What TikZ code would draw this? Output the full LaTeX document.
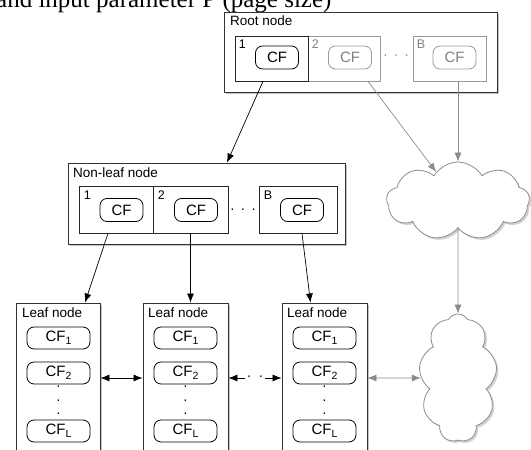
\documentclass[tikz,border=0pt]{standalone}
\usepackage{fontspec}
\setmainfont{Liberation Sans}
\newfontfamily\captionserif{Liberation Serif}
\usetikzlibrary{arrows.meta,positioning,calc,shapes.symbols,shadows}
\newcommand{\cfsub}[1]{CF\raisebox{-3.5pt}{\fontsize{10.5}{10.5}\selectfont #1}}

\begin{document}
\begin{tikzpicture}[
		x=1pt,y=-1pt,
		>={Latex[length=9pt,width=7pt]},
		outerbox/.style={
			draw=black!80,
			line width=0.9pt,
			fill=white,
			inner sep=0pt,
			drop shadow={shadow xshift=2pt,shadow yshift=-2pt,fill=black!40,opacity=0.6}
		},
		cell/.style={
			draw=black!85,
			line width=0.7pt,
			inner sep=0pt
		},
		greycell/.style={
			cell,
			draw=black!40
		},
		cfbox/.style={
			draw=black,
			line width=0.8pt,
			rounded corners=7pt,
			minimum width=43pt,
			minimum height=23pt,
			inner sep=0pt,
			font=\fontsize{15}{15}\selectfont
		},
		greycf/.style={
			cfbox,
			draw=black!40,
			text=black!50
		},
		leafcf/.style={
			cfbox,
			minimum width=63pt,
			minimum height=22pt
		},
		boxlabel/.style={
			anchor=north west,
			inner sep=0pt,
			font=\fontsize{13.5}{14}\selectfont
		},
		celllabel/.style={
			anchor=north west,
			inner sep=0pt,
			font=\fontsize{12.5}{12.5}\selectfont
		},
		dotrow/.style={
			inner sep=2pt,
			font=\fontsize{14}{14}\selectfont
		},
		dotcol/.style={
			inner sep=0pt,
			align=center,
			font=\fontsize{14}{13.5}\selectfont
		},
		link/.style={
			->,
			draw=black,
			line width=0.7pt
		},
		greylink/.style={
			link,
			draw=black!45
		},
		puff/.style={
			cloud,
			cloud puffs=9,
			cloud puff arc=120,
			cloud ignores aspect,
			draw=black!45,
			line width=0.8pt,
			fill=white,
			inner sep=0pt,
			drop shadow={shadow xshift=2pt,shadow yshift=-2pt,fill=black!35,opacity=0.5}
		}
		]
		
		\useasboundingbox (0,0) rectangle (531,450);
		\clip (0,0) rectangle (531,450);
		
		% -------------------------------------------------------------------------
		% Caption line cut by the page edge
		% -------------------------------------------------------------------------
		
		\node[anchor=base west,inner sep=0pt,font=\captionserif\fontsize{25}{25}\selectfont] (caption) at (-4,7)
		{and input parameter P (page size)};
		
		% -------------------------------------------------------------------------
		% Root node
		% -------------------------------------------------------------------------
		
		\node[outerbox,minimum width=273pt,minimum height=80pt] (root) at (360.5,52) {};
		\node[boxlabel] (rootlab) at (230,16) {Root node};
		
		\node[greycell,minimum width=72pt,minimum height=45pt] (r2) at (344,58.5) {};
		\node[greycell,minimum width=73pt,minimum height=45pt] (rB) at (449.5,58.5) {};
		\node[cell,minimum width=73pt,minimum height=45pt] (r1) at (271.5,58.5) {};
		
		\node[celllabel] (r1lab) at ([xshift=4pt,yshift=-4pt]r1.north west) {1};
		\node[celllabel,text=black!50] (r2lab) at ([xshift=4pt,yshift=-4pt]r2.north west) {2};
		\node[celllabel,text=black!50] (rBlab) at ([xshift=4pt,yshift=-4pt]rB.north west) {B};
		
		\node[cfbox] (r1cf) at (277,57.5) {CF};
		\node[greycf] (r2cf) at (350,57.5) {CF};
		\node[greycf] (rBcf) at (454.5,57.5) {CF};
		
		\node[dotrow,text=black!45] (rdots) at (396,57) {·\hspace{6pt}·\hspace{6pt}·};
		
		% -------------------------------------------------------------------------
		% Non-leaf node
		% -------------------------------------------------------------------------
		
		\node[outerbox,minimum width=277pt,minimum height=81pt] (nl) at (206.5,203.5) {};
		\node[boxlabel] (nllab) at (73,168) {Non-leaf node};
		
		\node[cell,minimum width=74pt,minimum height=47pt] (n1) at (116,209.5) {};
		\node[cell,minimum width=75pt,minimum height=47pt] (n2) at (190.5,209.5) {};
		\node[cell,minimum width=78pt,minimum height=47pt] (nB) at (298,209.5) {};
		
		\node[celllabel] (n1lab) at ([xshift=5pt,yshift=-5pt]n1.north west) {1};
		\node[celllabel] (n2lab) at ([xshift=5pt,yshift=-5pt]n2.north west) {2};
		\node[celllabel] (nBlab) at ([xshift=5pt,yshift=-5pt]nB.north west) {B};
		
		\node[cfbox] (n1cf) at (121.5,210) {CF};
		\node[cfbox] (n2cf) at (196,210) {CF};
		\node[cfbox] (nBcf) at (302,210) {CF};
		
		\node[dotrow] (ndots) at (243,211) {·\hspace{6pt}·\hspace{6pt}·};
		
		% -------------------------------------------------------------------------
		% Leaf nodes
		% -------------------------------------------------------------------------
		
		\node[outerbox,minimum width=84pt,minimum height=150pt] (l1) at (58,378) {};
		\node[outerbox,minimum width=85pt,minimum height=150pt] (l2) at (185.5,378) {};
		\node[outerbox,minimum width=85pt,minimum height=150pt] (l3) at (324.5,378) {};
		
		\node[boxlabel] (l1lab) at (22,308) {Leaf node};
		\node[boxlabel] (l2lab) at (148,308) {Leaf node};
		\node[boxlabel] (l3lab) at (287,308) {Leaf node};
		
		\node[leafcf] (l1a) at (58.5,338) {\cfsub{1}};
		\node[leafcf] (l1b) at (58.5,373) {\cfsub{2}};
		\node[dotcol] (l1d) at (58.5,402) {·\\·\\·};
		\node[leafcf] (l1c) at (58.5,431) {\cfsub{L}};
		
		\node[leafcf] (l2a) at (185.5,338) {\cfsub{1}};
		\node[leafcf] (l2b) at (185.5,373) {\cfsub{2}};
		\node[dotcol] (l2d) at (185.5,402) {·\\·\\·};
		\node[leafcf] (l2c) at (185.5,431) {\cfsub{L}};
		
		\node[leafcf] (l3a) at (324.5,338) {\cfsub{1}};
		\node[leafcf] (l3b) at (324.5,373) {\cfsub{2}};
		\node[dotcol] (l3d) at (324.5,402) {·\\·\\·};
		\node[leafcf] (l3c) at (324.5,431) {\cfsub{L}};
		
		% -------------------------------------------------------------------------
		% Clouds
		% -------------------------------------------------------------------------
		
		\node[puff,minimum width=143pt,minimum height=78pt] (c1) at (458,201) {};
		\node[puff,minimum width=78pt,minimum height=128pt] (c2) at (458,378) {};
		
		% -------------------------------------------------------------------------
		% Arrows
		% -------------------------------------------------------------------------
		
		\draw[link] ([xshift=-8.5pt]r1.south) -- ([xshift=20.5pt]nl.north);
		\draw[greylink] ([xshift=24pt]r2.south) -- (c1);
		\draw[greylink] (rB.south -| c1) -- (c1.north);
		\draw[greylink] (c1.south) -- (c2.north);
		
		\draw[link] ([xshift=-8pt]n1.south) -- ([xshift=27pt]l1.north);
		\draw[link] (n2.south) -- (n2.south |- l2.north);
		\draw[link] ([xshift=4pt]nB.south) -- ([xshift=-14pt]l3.north);
		
		\draw[link,<->] (l1.east) -- (l2.west);
		\node[dotrow] (ldots) at (255,378) {·\hspace{7pt}·};
		\draw[link,<-] (l2.east) -- (ldots.west);
		\draw[link] (ldots.east) -- (l3.west);
		\draw[greylink,<->] (l3.east) -- (c2.west);
		
\end{tikzpicture}
\end{document}
